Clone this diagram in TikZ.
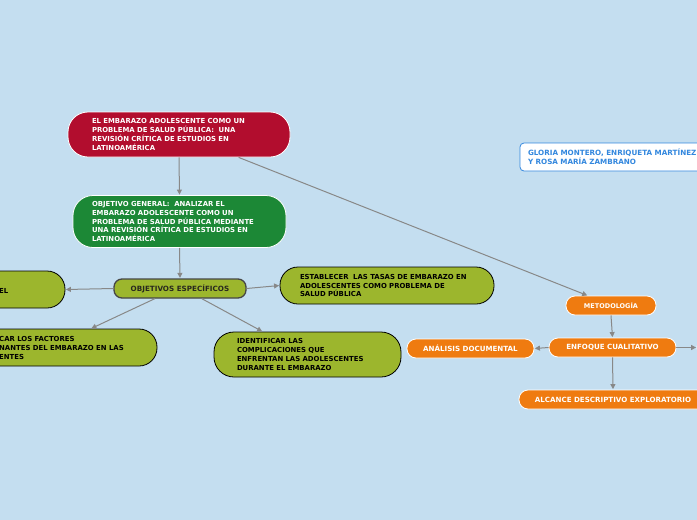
\documentclass[tikz,border=0pt]{standalone}
\usepackage{fontspec}
\setmainfont{DejaVu Sans}
\usetikzlibrary{arrows.meta}
\definecolor{bgblue}{RGB}{196,222,240}
\definecolor{titlered}{RGB}{178,13,46}
\definecolor{goalgreen}{RGB}{28,136,54}
\definecolor{olive}{RGB}{156,182,45}
\definecolor{orangebox}{RGB}{239,123,16}
\definecolor{authblue}{RGB}{50,135,222}
\definecolor{conngray}{RGB}{136,136,136}
\definecolor{darkborder}{RGB}{70,70,70}
\tikzset{
  txt/.style={font=\fontsize{6.9}{8.8}\selectfont\bfseries},
  box/.style={txt, rounded corners=#1, align=left, inner ysep=0pt},
  redbox/.style={box=20pt, fill=titlered, draw=white, line width=0.8pt, text=white},
  greenbox/.style={box=20pt, fill=goalgreen, draw=white, line width=0.8pt, text=white},
  olivebox/.style={box=#1, fill=olive, draw=black, line width=0.8pt, text=black},
  orbox/.style={txt, font=\fontsize{7.1}{8.7}\selectfont\bfseries, rounded corners=9pt, fill=orangebox, draw=white, line width=0.8pt, text=white, inner sep=0pt, minimum height=19pt, align=center},
  conn/.style={draw=conngray, line width=1pt, -{Triangle[length=5pt,width=5pt]}, shorten >=0.5pt}
}
\begin{document}
\begin{tikzpicture}[x=1pt,y=-1pt]
\useasboundingbox (0,0) rectangle (697,520);
\clip (0,0) rectangle (697,520);
\fill[bgblue] (0,0) rectangle (697,520);

% title
\node[redbox, minimum width=222pt, minimum height=45pt, text width=174pt, inner xsep=24pt] (title) at (179,134.5)
 {EL EMBARAZO ADOLESCENTE COMO UN\\PROBLEMA DE SALUD PÚBLICA:\ \ UNA\\REVISIÓN CRÍTICA DE ESTUDIOS EN\\LATINOAMÉRICA};

% general objective
\node[greenbox, minimum width=213pt, minimum height=52pt, text width=175pt, inner xsep=19pt] (goal) at (179.5,221.5)
 {OBJETIVO GENERAL:\ \ ANALIZAR EL\\EMBARAZO ADOLESCENTE COMO UN\\PROBLEMA DE SALUD PÚBLICA MEDIANTE\\UNA REVISIÓN CRÍTICA DE ESTUDIOS EN\\LATINOAMÉRICA};

% specific objectives
\node[txt, font=\fontsize{7.2}{8.7}\selectfont\bfseries, rounded corners=8pt, fill=olive, draw=darkborder, line width=1.3pt, text={rgb,255:red,40;green,40;blue,30}, minimum width=132pt, minimum height=19pt, inner sep=0pt] (spec) at (180,288.5) {OBJETIVOS ESPECÍFICOS};

% left cut node
\node[olivebox=18pt, minimum width=105pt, minimum height=37pt] (leftcut) at (12.5,289.5) {};
\node[txt, anchor=west, inner sep=0pt] (leftcuttext) at (-1,290.5) {EL};

% lower left cut node
\node[olivebox=18pt, minimum width=217pt, minimum height=37pt] (lowleft) at (48.5,347.5) {};
\node[txt, anchor=west, align=left, inner sep=0pt] (lowlefttext) at (-1,348)
 {CAR LOS FACTORES\\NANTES DEL EMBARAZO EN LAS\\ENTES};

% establecer
\node[olivebox=18pt, minimum width=214pt, minimum height=37pt, text width=174pt, inner xsep=20pt] (estab) at (387,285.5)
 {ESTABLECER\ \ LAS TASAS DE EMBARAZO EN\\ADOLESCENTES COMO PROBLEMA DE\\SALUD PÚBLICA};

% identificar
\node[olivebox=20pt, minimum width=187pt, minimum height=45pt, text width=141pt, inner xsep=23pt] (ident) at (307.5,354.5)
 {IDENTIFICAR LAS\\COMPLICACIONES QUE\\ENFRENTAN LAS ADOLESCENTES\\DURANTE EL EMBARAZO};

% authors
\node[txt, font=\fontsize{7.2}{8.7}\selectfont\bfseries, rounded corners=4pt, fill=white, draw=authblue, line width=0.8pt, text=authblue, minimum width=220pt, minimum height=28pt, text width=204pt, inner xsep=8pt, inner ysep=0pt, align=left] (authors) at (630,157)
 {GLORIA MONTERO, ENRIQUETA MARTÍNEZ\\Y ROSA MARÍA ZAMBRANO};

% orange nodes
\node[orbox, font=\fontsize{6.5}{8.7}\selectfont\bfseries, minimum width=90pt] (metod) at (611,305.5) {METODOLOGÍA};
\node[orbox, minimum width=127pt] (enfoque) at (612.5,347.5) {ENFOQUE CUALITATIVO};
\node[orbox, minimum width=127pt] (analisis) at (470.5,348.5) {ANÁLISIS DOCUMENTAL};
\node[orbox, minimum width=60pt] (rightcut) at (727,347.5) {};
\node[orbox, minimum width=188pt] (alcance) at (613,399.5) {ALCANCE DESCRIPTIVO EXPLORATORIO};

% connectors
\draw[conn] (title.south) -- (goal.north);
\draw[conn] (title.-21) -- (metod.157);
\draw[conn] (goal.south) -- (spec.north);
\draw[conn] (spec.west) -- (leftcut.east);
\draw[conn] (spec.east) -- (estab.west);
\draw[conn] (spec.202) -- (lowleft.24);
\draw[conn] (spec.-25) -- (ident.153);
\draw[conn] (metod.south) -- (enfoque.north);
\draw[conn] (enfoque.west) -- (analisis.east);
\draw[conn] (enfoque.east) -- (rightcut.west);
\draw[conn] (enfoque.south) -- (alcance.north);
\end{tikzpicture}
\end{document}
